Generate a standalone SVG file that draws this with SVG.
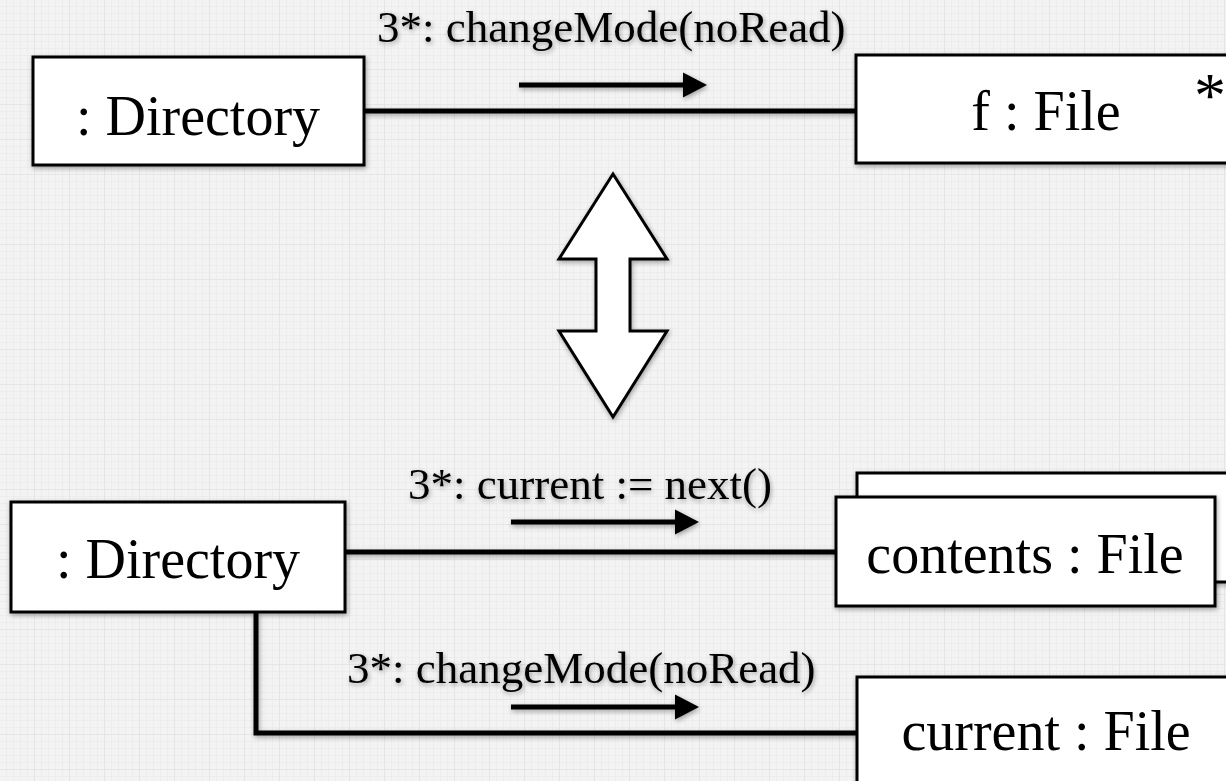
<svg xmlns="http://www.w3.org/2000/svg" width="1226" height="781" viewBox="0 0 1226 781">
  <defs>
    <!-- faint graph-paper backdrop -->
    <pattern id="minor" width="7" height="7" patternUnits="userSpaceOnUse">
      <rect width="7" height="7" fill="#f3f3f3"/>
      <path d="M7 0V7M0 7H7" stroke="#e7e7e7" stroke-width="1" fill="none"/>
    </pattern>
    <pattern id="grid" width="35" height="35" patternUnits="userSpaceOnUse">
      <rect width="35" height="35" fill="url(#minor)"/>
      <path d="M35 0V35M0 35H35" stroke="#e0e0e0" stroke-width="1.2" fill="none"/>
    </pattern>
    <filter id="shadow" x="-10%" y="-30%" width="120%" height="160%">
      <feGaussianBlur in="SourceAlpha" stdDeviation="2.5"/>
      <feOffset dx="1" dy="2" result="blur"/>
      <feComponentTransfer><feFuncA type="linear" slope="0.35"/></feComponentTransfer>
      <feMerge><feMergeNode/><feMergeNode in="SourceGraphic"/></feMerge>
    </filter>
    <!-- message direction arrow: shaft plus filled head, tip at origin -->
    <g id="flow">
      <line x1="-188" y1="0" x2="-22" y2="0" stroke="#000" stroke-width="5"/>
      <path d="M-24 -12.5L0 0L-24 12.5z" fill="#000"/>
    </g>
  </defs>
  <style>
    .box { fill: #fff; stroke: #000; stroke-width: 3; }
    .name { font-family: "Liberation Serif", "Times New Roman", serif; font-size: 56px; fill: #000; text-anchor: middle; }
    .msg { font-family: "Liberation Serif", "Times New Roman", serif; font-size: 45px; fill: #000; }
    .mult { font-family: "Liberation Serif", "Times New Roman", serif; font-size: 64px; fill: #000; text-anchor: middle; }
    .link { fill: none; stroke: #000; stroke-width: 5; }
  </style>

  <rect width="1226" height="781" fill="url(#grid)"/>

  <!-- links between objects -->
  <g id="connectors" filter="url(#shadow)">
    <line class="link" x1="364" y1="111" x2="856" y2="111"/>
    <line class="link" x1="345" y1="552" x2="836" y2="552"/>
    <polyline class="link" points="256,612 256,733 857,733"/>
    <use href="#flow" x="707" y="85"/>
    <use href="#flow" x="699" y="522"/>
    <use href="#flow" x="699" y="707"/>
  </g>

  <!-- message labels -->
  <g id="messages" filter="url(#shadow)">
    <text class="msg" x="377" y="42">3*: changeMode(noRead)</text>
    <text class="msg" x="408" y="499">3*: current := next()</text>
    <text class="msg" x="347" y="683">3*: changeMode(noRead)</text>
  </g>

  <!-- upper collaboration -->
  <g id="dir-top" filter="url(#shadow)">
    <rect class="box" x="33" y="57" width="331" height="108"/>
    <text class="name" x="198" y="135">: Directory</text>
  </g>
  <g id="file-f" filter="url(#shadow)">
    <rect class="box" x="856" y="55" width="380" height="108"/>
    <text class="name" x="1046" y="130">f : File</text>
    <text class="mult" x="1210" y="117">*</text>
  </g>

  <!-- equivalence arrow -->
  <g id="equivalence" filter="url(#shadow)">
    <polygon points="613,174 667,259 630,259 630,331 667,331 613,417 559,331 596,331 596,259 559,259" fill="#fff" stroke="#000" stroke-width="3" stroke-linejoin="miter"/>
  </g>

  <!-- lower collaboration -->
  <g id="dir-bottom" filter="url(#shadow)">
    <rect class="box" x="11" y="502" width="334" height="110"/>
    <text class="name" x="178" y="578">: Directory</text>
  </g>
  <g id="contents-multi" filter="url(#shadow)">
    <rect class="box" x="857" y="473" width="380" height="109"/>
  </g>
  <g id="contents" filter="url(#shadow)">
    <rect class="box" x="836" y="497" width="379" height="109"/>
    <text class="name" x="1025" y="573">contents : File</text>
  </g>
  <g id="current" filter="url(#shadow)">
    <rect class="box" x="857" y="677" width="380" height="120"/>
    <text class="name" x="1046" y="750">current : File</text>
  </g>
</svg>
